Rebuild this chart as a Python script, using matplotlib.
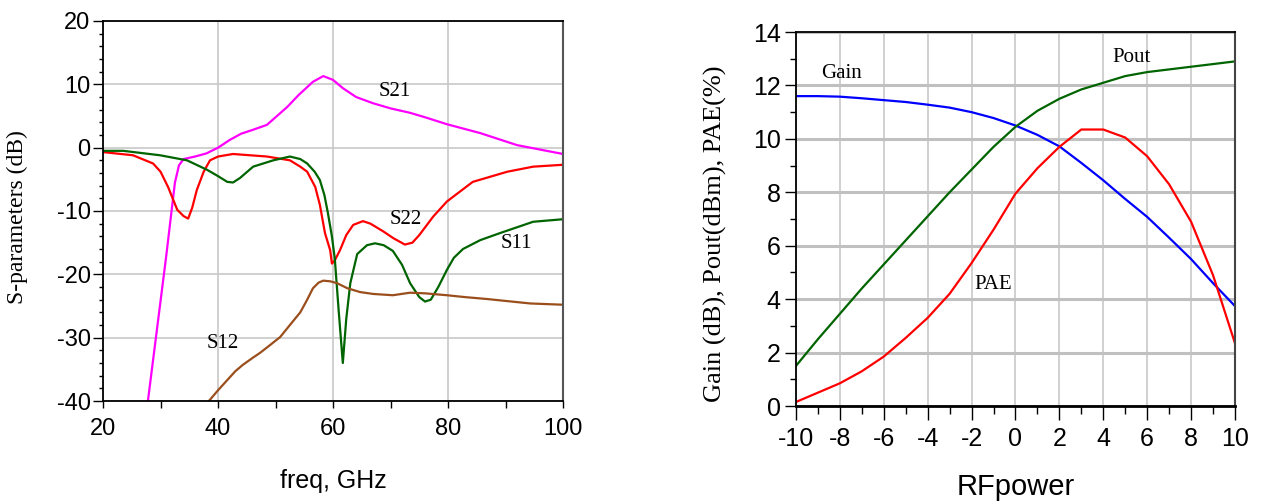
import numpy as np
import matplotlib
matplotlib.use("Agg")
import matplotlib.pyplot as plt
from matplotlib.ticker import MultipleLocator

plt.rcParams["axes.unicode_minus"] = False

# ---- left panel: S-parameters vs frequency ----
s21_f = [27.8, 31.0, 32.5, 33.2, 34.0, 36.0, 38.0, 40.0, 42.0, 44.0, 46.0, 48.5, 50.0,
         52.0, 54.0, 56.5, 58.3, 60.0, 61.7, 64.0, 67.0, 70.0, 73.4, 76.0, 79.8, 85.6, 92.0, 100.0]
s21_db = [-40, -17, -5.5, -2.8, -1.8, -1.4, -0.9, 0.0, 1.2, 2.2, 2.8, 3.6, 4.8,
          6.4, 8.3, 10.4, 11.3, 10.7, 9.4, 8.0, 7.0, 6.2, 5.5, 4.8, 3.7, 2.3, 0.4, -1.0]

s22_f = [20.0, 25.2, 28.7, 30.0, 31.3, 32.9, 34.0, 34.8, 35.5, 36.3, 37.5, 38.6, 40.0, 42.6,
         48.5, 52.5, 54.3, 55.5, 56.9, 57.7, 58.6, 59.5, 59.8, 60.3, 61.2, 62.3, 63.5,
         65.2, 66.5, 68.7, 70.5, 72.5, 73.8, 75.0, 77.4, 79.8, 84.3, 90.3, 94.8, 100.0]
s22_db = [-0.7, -1.2, -2.5, -3.8, -6.2, -9.8, -10.8, -11.2, -9.5, -6.7, -3.8, -2.0, -1.4, -1.0,
          -1.4, -2.0, -3.0, -3.8, -6.2, -9.0, -13.5, -16.2, -18.3, -17.8, -16.2, -13.8, -12.2,
          -11.6, -12.0, -13.2, -14.3, -15.3, -15.0, -13.8, -10.9, -8.5, -5.4, -3.8, -3.0, -2.7]

s11_f = [20.0, 23.5, 29.9, 34.6, 38.1, 40.0, 41.6, 42.6, 43.8, 46.1, 49.6, 52.5, 54.3, 55.5,
         56.8, 57.7, 58.5, 59.1, 59.8, 60.3, 61.0, 61.7, 62.3, 63.0, 64.2, 65.9, 67.3, 68.8,
         70.4, 72.0, 73.4, 75.0, 76.0, 77.0, 78.3, 79.8, 81.0, 82.6, 85.6, 89.0, 94.8, 100.0]
s11_db = [-0.5, -0.5, -1.2, -2.0, -3.5, -4.5, -5.4, -5.5, -4.8, -3.0, -2.0, -1.4, -1.8, -2.5,
          -3.8, -5.1, -7.5, -10.3, -14.0, -17.5, -26.0, -34.0, -27.0, -21.4, -16.8, -15.4, -15.1, -15.4,
          -16.3, -18.5, -21.4, -23.6, -24.3, -24.0, -22.0, -19.3, -17.4, -16.0, -14.6, -13.5, -11.7, -11.3]

s12_f = [38.4, 40.0, 41.6, 43.0, 44.3, 46.0, 47.3, 49.0, 50.8, 52.5, 54.3, 55.5, 56.5, 57.5,
         58.3, 59.5, 60.7, 62.5, 64.7, 67.0, 70.4, 73.4, 76.0, 79.8, 83.0, 86.8, 90.0, 94.3, 100.0]
s12_db = [-40, -38.3, -36.7, -35.3, -34.3, -33.2, -32.4, -31.2, -29.9, -28.0, -26.0, -24.0, -22.2, -21.3,
          -21.0, -21.1, -21.4, -22.2, -22.8, -23.1, -23.3, -22.9, -23.0, -23.3, -23.6, -23.9, -24.2, -24.6, -24.8]

# ---- right panel: power sweep ----
rf_power = list(range(-10, 11))
gain = [11.6, 11.6, 11.58, 11.52, 11.45, 11.38, 11.28, 11.17, 11.0, 10.78, 10.5,
        10.15, 9.72, 9.1, 8.45, 7.75, 7.08, 6.3, 5.5, 4.6, 3.74]
pout = [1.5, 2.5, 3.45, 4.4, 5.3, 6.2, 7.1, 8.0, 8.85, 9.7, 10.45,
        11.05, 11.5, 11.85, 12.1, 12.35, 12.5, 12.6, 12.7, 12.8, 12.9]
pae = [0.15, 0.5, 0.85, 1.3, 1.85, 2.55, 3.3, 4.2, 5.35, 6.6, 7.95,
       8.9, 9.7, 10.35, 10.35, 10.05, 9.35, 8.3, 6.9, 4.9, 2.35]

SANS = "Liberation Sans"
SERIF = "Liberation Serif"

fig = plt.figure(figsize=(12.63, 5.01), dpi=100)
ax1 = fig.add_axes([0.0816, 0.1996, 0.3642, 0.7585])
ax2 = fig.add_axes([0.6302, 0.1896, 0.3476, 0.7465])

# left
ax1.plot(s21_f, s21_db, color="#ff00ff", lw=1.6)
ax1.plot(s22_f, s22_db, color="#ff0000", lw=1.6)
ax1.plot(s11_f, s11_db, color="#006400", lw=1.6)
ax1.plot(s12_f, s12_db, color="#9a4e1c", lw=1.6)
ax1.set_xlim(20, 100)
ax1.set_ylim(-40, 20)
ax1.xaxis.set_major_locator(MultipleLocator(20))
ax1.xaxis.set_minor_locator(MultipleLocator(10))
ax1.yaxis.set_major_locator(MultipleLocator(10))
ax1.yaxis.set_minor_locator(MultipleLocator(2))
ax1.grid(True, which="major", color="#c8c8c8", lw=1.2)
ax1.set_axisbelow(True)
ax1.tick_params(axis="x", which="both", direction="out", length=5, width=1, pad=7)
ax1.tick_params(axis="y", which="major", direction="out", length=7, width=1, pad=2)
ax1.tick_params(axis="y", which="minor", direction="out", length=3, width=1)
for lab in ax1.get_xticklabels() + ax1.get_yticklabels():
    lab.set_fontfamily(SANS)
    lab.set_fontsize(17)
for side in ["left", "bottom", "top"]:
    ax1.spines[side].set_color("black")
    ax1.spines[side].set_linewidth(1.3)
ax1.spines["right"].set_color("#555555")
ax1.spines["right"].set_linewidth(1.5)
ax1.set_xlabel("freq, GHz", family=SANS, fontsize=18, labelpad=21)
ax1.set_ylabel("S-parameters (dB)", family=SERIF, fontsize=17)
ax1.yaxis.set_label_coords(-0.163, 0.484)

ax1.text(70.7, 8.9, "S21", family=SERIF, fontsize=15, ha="center", va="center")
ax1.text(72.7, -11.4, "S22", family=SERIF, fontsize=15, ha="center", va="center")
ax1.text(91.8, -15.1, "S11", family=SERIF, fontsize=15, ha="center", va="center")
ax1.text(40.9, -31.0, "S12", family=SERIF, fontsize=15, ha="center", va="center")

# right
ax2.plot(rf_power, gain, color="#0000ff", lw=1.6)
ax2.plot(rf_power, pout, color="#006400", lw=1.6)
ax2.plot(rf_power, pae, color="#ff0000", lw=1.6)
ax2.set_xlim(-10, 10)
ax2.set_ylim(0, 14)
ax2.xaxis.set_major_locator(MultipleLocator(2))
ax2.xaxis.set_minor_locator(MultipleLocator(1))
ax2.yaxis.set_major_locator(MultipleLocator(2))
ax2.yaxis.set_minor_locator(MultipleLocator(1))
ax2.grid(True, axis="y", which="major", color="#c0c0c0", lw=2.2)
ax2.grid(True, axis="x", which="major", color="#c8c8c8", lw=1.2)
ax2.set_axisbelow(True)
ax2.tick_params(axis="x", which="major", direction="out", length=10, width=1, pad=5)
ax2.tick_params(axis="x", which="minor", direction="out", length=6, width=1)
ax2.tick_params(axis="y", which="major", direction="out", length=8, width=1, pad=3)
ax2.tick_params(axis="y", which="minor", direction="out", length=4.5, width=1)
for lab in ax2.get_xticklabels() + ax2.get_yticklabels():
    lab.set_fontfamily(SANS)
    lab.set_fontsize(18)
for side in ["left", "top"]:
    ax2.spines[side].set_color("black")
    ax2.spines[side].set_linewidth(1.3)
ax2.spines["bottom"].set_color("black")
ax2.spines["bottom"].set_linewidth(2)
ax2.spines["right"].set_color("#444444")
ax2.spines["right"].set_linewidth(1.5)
ax2.set_xlabel("RFpower", family=SANS, fontsize=21, labelpad=16)
ax2.set_ylabel("Gain (dB), Pout(dBm), PAE(%)", family=SERIF, fontsize=19)
ax2.yaxis.set_label_coords(-0.157, 0.46)

ax2.text(-7.93, 12.43, "Gain", family=SERIF, fontsize=15, ha="center", va="center")
ax2.text(5.3, 13.03, "Pout", family=SERIF, fontsize=15, ha="center", va="center")
ax2.text(-1.03, 4.53, "PAE", family=SERIF, fontsize=15, ha="center", va="center")

fig.savefig("out.png", dpi=100)
